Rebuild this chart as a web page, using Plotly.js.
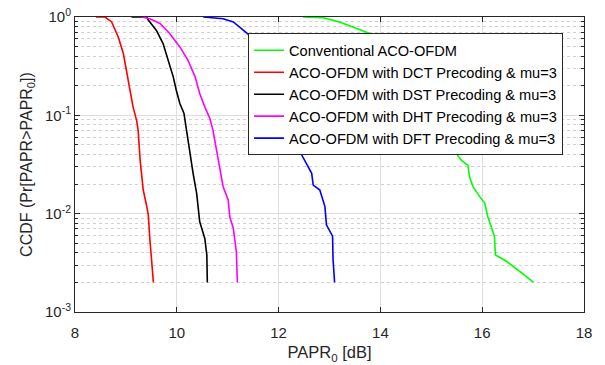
<!DOCTYPE html>
<html>
<head>
<meta charset="utf-8">
<script src="https://cdn.plot.ly/plotly-3.0.1.min.js"></script>
<style>html,body{margin:0;padding:0;background:#fff;}#chart{width:605px;height:365px;}</style>
</head>
<body>
<div id="chart"></div>
<script>
// Series names
const names = [
  "Conventional ACO-OFDM",
  "ACO-OFDM with DCT Precoding & mu=3",
  "ACO-OFDM with DST Precoding & mu=3",
  "ACO-OFDM with DHT Precoding & mu=3",
  "ACO-OFDM with DFT Precoding & mu=3"
];
const colors = ["#00ff00", "#ff0000", "#000000", "#ff00ff", "#0000ff"];

// Conventional ACO-OFDM
const convX = [12.48, 12.87, 13.20, 13.53, 13.79, 14.1, 14.5, 14.9, 15.2, 15.39, 15.49, 15.59, 15.72, 15.75, 15.82, 15.95, 16.05, 16.11, 16.18, 16.24, 16.26, 16.47, 16.73, 17.01];
const convY = [1.0, 0.985, 0.89, 0.76, 0.68, 0.5, 0.3, 0.16, 0.09, 0.056, 0.041, 0.035, 0.031, 0.0238, 0.0188, 0.0149, 0.0128, 0.0093, 0.0074, 0.0059, 0.0038, 0.0033, 0.0026, 0.002];

// DCT precoding
const dctX = [8.41, 8.59, 8.72, 8.85, 8.95, 9.01, 9.08, 9.14, 9.21, 9.24, 9.28, 9.34, 9.41, 9.44, 9.47, 9.50, 9.54];
const dctY = [1.0, 1.0, 0.89, 0.627, 0.425, 0.288, 0.181, 0.122, 0.089, 0.0707, 0.035, 0.0175, 0.0118, 0.0097, 0.0056, 0.0033, 0.002];

// DST precoding
const dstX = [9.11, 9.41, 9.44, 9.60, 9.73, 9.83, 9.93, 9.99, 10.06, 10.14, 10.16, 10.19, 10.26, 10.32, 10.39, 10.44, 10.45, 10.55, 10.59, 10.60];
const dstY = [1.0, 1.0, 0.93, 0.73, 0.537, 0.363, 0.246, 0.18, 0.132, 0.105, 0.089, 0.0707, 0.041, 0.0257, 0.0161, 0.0093, 0.0083, 0.0056, 0.0038, 0.002];

// DHT precoding
const dhtX = [9.31, 9.47, 9.67, 9.86, 10.06, 10.22, 10.36, 10.45, 10.55, 10.65, 10.71, 10.78, 10.85, 10.91, 11.01, 11.04, 11.11, 11.17, 11.19];
const dhtY = [1.0, 0.96, 0.86, 0.68, 0.496, 0.363, 0.246, 0.167, 0.122, 0.093, 0.0707, 0.0445, 0.0301, 0.0188, 0.0138, 0.0093, 0.0071, 0.0041, 0.002];

// DFT precoding
const dftX = [10.52, 10.91, 11.11, 11.27, 11.40, 11.6, 11.8, 12.0, 12.2, 12.36, 12.42, 12.55, 12.65, 12.68, 12.81, 12.91, 12.94, 13.06, 13.07, 13.10];
const dftY = [1.0, 0.96, 0.89, 0.76, 0.67, 0.5, 0.33, 0.2, 0.1, 0.056, 0.0426, 0.0326, 0.0257, 0.0195, 0.0174, 0.0118, 0.0077, 0.0059, 0.0034, 0.002];

// Axis ticks
const xTicks = [8, 10, 12, 14, 16, 18];
const yTickVals = [1, 0.1, 0.01, 0.001];
const yTickText = ["10<sup>0</sup>", "10<sup>-1</sup>", "10<sup>-2</sup>", "10<sup>-3</sup>"];
const yMinorVals = [0.002,0.003,0.004,0.005,0.006,0.007,0.008,0.009,0.02,0.03,0.04,0.05,0.06,0.07,0.08,0.09,0.2,0.3,0.4,0.5,0.6,0.7,0.8,0.9];

const xs = [convX, dctX, dstX, dhtX, dftX];
const ys = [convY, dctY, dstY, dhtY, dftY];

const traces = names.map((n, i) => ({
  x: xs[i], y: ys[i], name: n, type: "scatter", mode: "lines",
  line: {color: colors[i], width: 1.6}
}));

const fam = "Liberation Sans, Arial, sans-serif";
const dark = "#262626";

const layout = {
  width: 605, height: 365,
  margin: {l: 75, r: 21, t: 17, b: 53},
  paper_bgcolor: "#fff", plot_bgcolor: "#fff",
  font: {family: fam, size: 14, color: dark},
  showlegend: true,
  legend: {
    x: 0.34, y: 0.945, xanchor: "left", yanchor: "top",
    bgcolor: "#fff", bordercolor: dark, borderwidth: 1,
    font: {family: fam, size: 14.6, color: "#000"},
    tracegroupgap: 0, itemwidth: 30
  },
  xaxis: {
    range: [8, 18], tickvals: xTicks, ticktext: xTicks.map(String),
    ticks: "inside", ticklen: 5, tickcolor: dark,
    showline: true, linecolor: dark, linewidth: 1, mirror: "ticks",
    showgrid: true, gridcolor: "#dedede", gridwidth: 1, zeroline: false,
    ticklabelstandoff: 7,
    tickfont: {family: fam, size: 15, color: dark},
    title: {text: "PAPR<sub>0</sub> [dB]", font: {family: fam, size: 16.5, color: dark}, standoff: 6}
  },
  yaxis: {
    type: "log", range: [-3, 0],
    tickvals: yTickVals, ticktext: yTickText,
    ticks: "inside", ticklen: 5, tickcolor: dark,
    showline: true, linecolor: dark, linewidth: 1, mirror: "ticks",
    showgrid: true, gridcolor: "#dedede", gridwidth: 1, zeroline: false,
    tickfont: {family: fam, size: 15, color: dark},
    minor: {
      tickvals: yMinorVals,
      ticks: "inside", ticklen: 3, tickcolor: dark,
      showgrid: true, gridcolor: "#d2d2d2", griddash: "dot", gridwidth: 1
    },
    title: {text: "CCDF (Pr[PAPR>PAPR<sub>0</sub>])", font: {family: fam, size: 16, color: dark}, standoff: 8}
  }
};

Plotly.newPlot("chart", traces, layout, {displayModeBar: false, staticPlot: true});
</script>
</body>
</html>
